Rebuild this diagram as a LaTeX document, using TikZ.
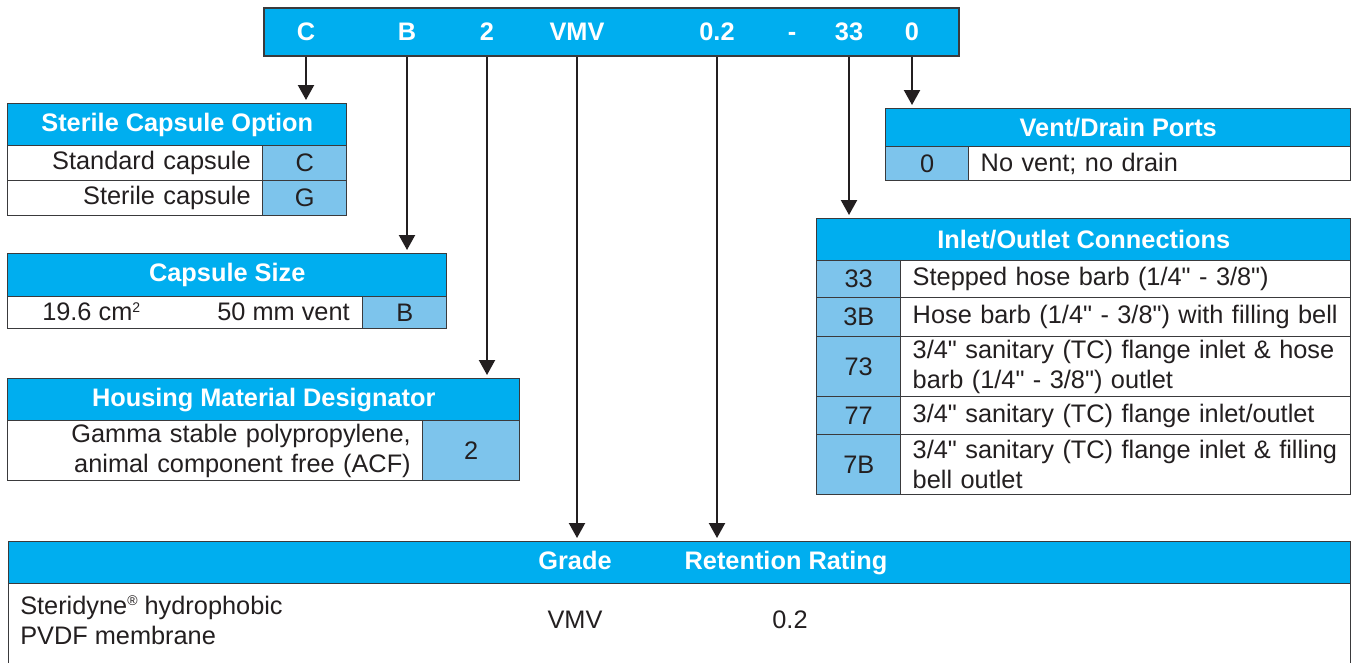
\documentclass[tikz,border=0pt]{standalone}
\usepackage{fontspec}
\setmainfont{Liberation Sans}[Ligatures=TeXOff]
\usetikzlibrary{arrows.meta}
\definecolor{hblue}{HTML}{00AEEF}
\definecolor{cblue}{HTML}{7DC4EC}
\definecolor{ink}{HTML}{231F20}
\definecolor{edge}{HTML}{3A3A3C}
\newcommand\qq{"}
\newcommand\smallsup[1]{\raisebox{0.62ex}{\fontsize{10.5}{10.5}\selectfont #1}}
\begin{document}
\begin{tikzpicture}[x=0.75pt,y=-0.75pt,
  sz/.style 2 args={minimum width=#1*0.75pt,minimum height=#2*0.75pt},
  cellbase/.style={draw=edge, line width=1.1pt, inner sep=0pt, anchor=north west,
    text=ink, font=\fontsize{19}{22.5}\selectfont},
  head/.style={cellbase, fill=hblue, text=white, font=\fontsize{19}{22.5}\selectfont\bfseries},
  code/.style={cellbase, fill=cblue},
  rcell/.style={cellbase, fill=white, align=right, text width=#1*0.75pt-24*0.75pt, inner xsep=12*0.75pt},
  lcell/.style={cellbase, fill=white, align=left, text width=#1*0.75pt-24*0.75pt, inner xsep=12*0.75pt},
  bartext/.style={text=white, font=\fontsize{19}{22.5}\selectfont\bfseries, inner sep=0pt, anchor=base},
  plain/.style={text=ink, font=\fontsize{19}{22.5}\selectfont, inner sep=0pt},
  arr/.style={draw=ink, line width=1.6pt, -{Triangle[width=16*0.75pt,length=15*0.75pt]}, shorten >=3*0.75pt}
]
\useasboundingbox (0,0) rectangle (1352,662);

% top bar
\node[head, draw=edge, line width=1.6pt, sz={695}{48}] (bar) at (263,7) {};
\node[bartext] (lC) at (306,40) {C};
\node[bartext] (lB) at (407,40) {B};
\node[bartext] (l2) at (487,40) {2};
\node[bartext] (lVMV) at (577,40) {VMV};
\node[bartext] (l02) at (717,40) {0.2};
\node[bartext] (ldash) at (792,40) {-};
\node[bartext] (l33) at (849,40) {33};
\node[bartext] (l0) at (912,40) {0};

% Sterile Capsule Option
\node[head, sz={339}{42}] (sco) at (7,103) {Sterile Capsule Option};
\node[rcell=255, sz={255}{35}] (sco1) at (7,145) {Standard capsule};
\node[code, sz={84}{35}] (scoC) at (262,145) {C};
\node[rcell=255, sz={255}{35}] (sco2) at (7,180) {Sterile capsule};
\node[code, sz={84}{35}] (scoG) at (262,180) {G};

% Capsule Size
\node[head, sz={439}{43}] (cs) at (7,253) {Capsule Size};
\node[cellbase, fill=white, sz={355}{32}] (cs1) at (7,296) {};
\node[plain, anchor=west] (cs1a) at (42,312) {19.6 cm\smallsup{2}};
\node[plain, anchor=east] (cs1b) at (350,312) {50 mm vent};
\node[code, sz={84}{32}] (csB) at (362,296) {B};

% Housing Material Designator
\node[head, sz={512}{42}] (hm) at (7,378) {Housing Material Designator};
\node[rcell=415, sz={415}{60}] (hm1) at (7,420) {Gamma stable polypropylene,\\animal component free (ACF)};
\node[code, sz={97}{60}] (hm2) at (422,420) {2};

% Vent/Drain Ports
\node[head, sz={465}{38}] (vd) at (885,108) {Vent/Drain Ports};
\node[code, sz={83}{34}] (vd0) at (885,146) {0};
\node[lcell=382, sz={382}{34}] (vd1) at (968,146) {No vent; no drain};

% Inlet/Outlet Connections
\node[head, sz={534}{42}] (io) at (816,218) {Inlet/Outlet Connections};
\node[code, sz={84}{37}] (io33) at (816,260) {33};
\node[lcell=450, sz={450}{37}] (io33t) at (900,260) {Stepped hose barb (1/4\qq{} - 3/8\qq)};
\node[code, sz={84}{39}] (io3B) at (816,297) {3B};
\node[lcell=450, sz={450}{39}] (io3Bt) at (900,297) {Hose barb (1/4\qq{} - 3/8\qq) with filling bell};
\node[code, sz={84}{60}] (io73) at (816,336) {73};
\node[lcell=450, sz={450}{60}] (io73t) at (900,336) {3/4\qq{} sanitary (TC) flange inlet \& hose\\barb (1/4\qq{} - 3/8\qq) outlet};
\node[code, sz={84}{38}] (io77) at (816,396) {77};
\node[lcell=450, sz={450}{38}] (io77t) at (900,396) {3/4\qq{} sanitary (TC) flange inlet/outlet};
\node[code, sz={84}{60}] (io7B) at (816,434) {7B};
\node[lcell=450, sz={450}{60}] (io7Bt) at (900,434) {3/4\qq{} sanitary (TC) flange inlet \& filling\\bell outlet};

% Bottom table
\node[head, sz={1342}{42}] (bt) at (8,541) {};
\node[bartext] (bGrade) at (575,569) {Grade};
\node[bartext] (bRet) at (786,569) {Retention Rating};
\node[cellbase, fill=white, sz={1342}{100}] (bb) at (8,583) {};
\node[plain, anchor=west, align=left] (bMem) at (20,620) {Steridyne\smallsup{®} hydrophobic\\PVDF membrane};
\node[plain] (bVMV) at (575,620) {VMV};
\node[plain] (b02) at (790,620) {0.2};

% arrows
\draw[arr] (lC |- bar.south) -- (lC |- sco.north);
\draw[arr] (lB |- bar.south) -- (lB |- cs.north);
\draw[arr] (l2 |- bar.south) -- (l2 |- hm.north);
\draw[arr] (lVMV |- bar.south) -- (lVMV |- bt.north);
\draw[arr] (l02 |- bar.south) -- (l02 |- bt.north);
\draw[arr] (l33 |- bar.south) -- (l33 |- io.north);
\draw[arr] (l0 |- bar.south) -- (l0 |- vd.north);
\end{tikzpicture}
\end{document}
